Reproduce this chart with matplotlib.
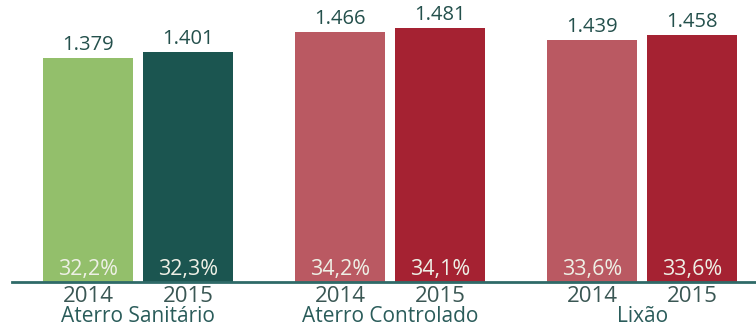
import numpy as np
import matplotlib
matplotlib.use("Agg")
import matplotlib.pyplot as plt

plt.rcParams['font.family'] = ['Open Sans', 'DejaVu Sans']

categories = ["Aterro Sanitário", "Aterro Controlado", "Lixão"]
years = ["2014", "2015"]
values_2014 = [1.379, 1.466, 1.439]
values_2015 = [1.401, 1.481, 1.458]
pct_2014 = ["32,2%", "34,2%", "33,6%"]
pct_2015 = ["32,3%", "34,1%", "33,6%"]

colors_2014 = ["#93BF6B", "#BA5962", "#BA5962"]
colors_2015 = ["#1B5550", "#A52232", "#A52232"]

base = 0.617
width = 0.357
offset = 0.198

fig = plt.figure(figsize=(7.56, 3.25), dpi=100)
ax = fig.add_axes([12 / 756, 43 / 325, 744 / 756, 282 / 325])

x = np.arange(len(categories))
series = [(values_2014, pct_2014, colors_2014, -offset, years[0]),
          (values_2015, pct_2015, colors_2015, offset, years[1])]

for vals, pcts, cols, off, yr in series:
    h = [v - base for v in vals]
    bars = ax.bar(x + off, h, width, bottom=base, color=cols)
    for b, v, p in zip(bars, vals, pcts):
        cx = b.get_x() + b.get_width() / 2
        ax.annotate(f"{v:.3f}", (cx, v), xytext=(0, 3), textcoords="offset pixels",
                    ha="center", va="bottom", fontsize=14.5, color="#24504C")
        ax.annotate(p, (cx, base), xytext=(0, 12), textcoords="offset pixels",
                    ha="center", va="center", fontsize=15.5, color="#EEF0E6")
        ax.annotate(yr, (cx, base), xytext=(0, -15), textcoords="offset pixels",
                    ha="center", va="center", fontsize=16, color="#3A5754",
                    annotation_clip=False)

for xi, c in zip(x, categories):
    ax.annotate(c, (xi, base), xytext=(0, -34), textcoords="offset pixels",
                ha="center", va="center", fontsize=15, color="#2A5C5A",
                annotation_clip=False)

ax.set_xlim(-0.5, 2.452)
ax.set_ylim(base, base + 282 / 294)
for s in ["top", "right", "left"]:
    ax.spines[s].set_visible(False)
ax.spines["bottom"].set_color("#2F6A68")
ax.spines["bottom"].set_linewidth(2)
ax.set_xticks([])
ax.set_yticks([])
ax.patch.set_alpha(0)

fig.savefig("out.png", dpi=100)
